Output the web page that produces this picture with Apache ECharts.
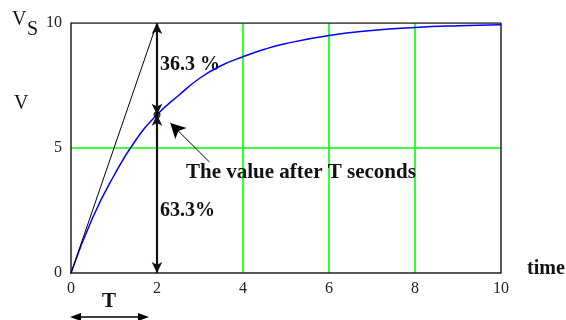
<!DOCTYPE html>
<html>
<head>
<meta charset="utf-8">
<script src="https://cdn.jsdelivr.net/npm/echarts@6/dist/echarts.min.js"></script>
<style>
  html, body { margin: 0; padding: 0; background: #fff; }
  #chart { width: 566px; height: 320px; }
</style>
</head>
<body>
<div id="chart"></div>
<script>
// Capacitor charging curve: voltage against time
var timeValues = [0, 0.5, 1, 1.5, 2, 2.5, 3, 3.5, 4, 4.5, 5, 6, 7, 8, 9, 10];
var voltValues = [0, 2.2, 3.9, 5.3, 6.33, 7.1, 7.8, 8.3, 8.65, 8.95, 9.18, 9.5, 9.7, 9.82, 9.89, 9.93];

// Initial slope line reaching the supply voltage at t = T
var tangentT = [0, 2];
var tangentV = [0, 10];

// Time constant and value reached after one T
var timeConstant = 2;
var valueAtT = 6.33;
var supplyV = 10;

// Annotation arrow (tail -> head), in data units
var noteTail = [3.22, 4.44];
var noteHead = [2.31, 6.0];

var xTicks = { min: 0, max: 10, interval: 2 };
var yTicks = { min: 0, max: 10, interval: 5 };

var upperPct = '36.3 %';
var lowerPct = '63.3%';
var noteText = 'The value after T seconds';

var serif = '"Liberation Serif", "Times New Roman", serif';

var curveData = timeValues.map(function (t, i) { return [t, voltValues[i]]; });
var tangentData = tangentT.map(function (t, i) { return [t, tangentV[i]]; });

var chart = echarts.init(document.getElementById('chart'), null, { renderer: 'canvas' });

var option = {
  animation: false,
  backgroundColor: '#fff',
  grid: { left: 71, right: 65, top: 23, bottom: 47, show: false },
  xAxis: {
    type: 'value', min: xTicks.min, max: xTicks.max, interval: xTicks.interval,
    axisLine: { show: true, lineStyle: { color: '#222', width: 1.5 } },
    axisTick: { show: false },
    axisLabel: { color: '#222', fontFamily: serif, fontSize: 16, margin: 8 },
    splitLine: { show: true, showMinLine: false, showMaxLine: false, lineStyle: { color: '#00ff00', width: 1.6 } }
  },
  yAxis: {
    type: 'value', min: yTicks.min, max: yTicks.max, interval: yTicks.interval,
    axisLine: { show: true, lineStyle: { color: '#222', width: 1.5 } },
    axisTick: { show: false },
    axisLabel: { color: '#222', fontFamily: serif, fontSize: 16, margin: 9 },
    splitLine: { show: true, showMinLine: false, showMaxLine: false, lineStyle: { color: '#00ff00', width: 1.6 } }
  },
  series: [
    {
      // frame top and right edges
      type: 'line',
      data: [[xTicks.min, yTicks.max], [xTicks.max, yTicks.max], [xTicks.max, yTicks.min]],
      symbol: 'none', silent: true, z: 1,
      lineStyle: { color: '#222', width: 1.5 }
    },
    {
      type: 'line',
      data: curveData,
      smooth: true,
      symbol: 'none',
      lineStyle: { color: '#0000ff', width: 1.5 },
      z: 3
    },
    {
      type: 'line',
      data: tangentData,
      symbol: 'none',
      lineStyle: { color: '#000', width: 1 },
      z: 4,
      markLine: {
        silent: true,
        symbol: ['arrow', 'arrow'],
        symbolSize: [8, 11],
        label: { show: false },
        lineStyle: { color: '#111', width: 2.2, type: 'solid' },
        data: [
          [{ coord: [timeConstant, supplyV] }, { coord: [timeConstant, valueAtT] }],
          [{ coord: [timeConstant, valueAtT] }, { coord: [timeConstant, 0] }]
        ]
      }
    },
    {
      type: 'line',
      data: [],
      z: 5,
      markLine: {
        silent: true,
        symbol: ['none', 'arrow'],
        symbolSize: [12, 15],
        label: { show: false },
        lineStyle: { color: '#000', width: 1, type: 'solid' },
        data: [[{ coord: noteTail }, { coord: noteHead }]]
      }
    },
    {
      type: 'scatter',
      data: [[timeConstant, valueAtT]],
      symbol: 'circle',
      symbolSize: 7,
      itemStyle: { color: '#000' },
      z: 6
    }
  ]
};
chart.setOption(option);

// Text annotations and the T span arrow below the axis
var pT0 = chart.convertToPixel({ gridIndex: 0 }, [0, 0]);
var pT1 = chart.convertToPixel({ gridIndex: 0 }, [timeConstant, 0]);
var arrowY = 317;
var x0 = pT0[0] - 1, x1 = pT1[0] - 8;

var textStyle = function (txt, size, bold) {
  return { text: txt, fill: '#111', font: (bold ? 'bold ' : '') + size + 'px ' + serif };
};

chart.setOption({
  graphic: [
    { type: 'text', left: 12, top: 10, style: textStyle('V', 20, false) },
    { type: 'text', left: 27, top: 20, style: textStyle('S', 20, false) },
    { type: 'text', left: 14, top: 94, style: textStyle('V', 20, false) },
    { type: 'text', left: 527, top: 259, style: textStyle('time', 20, true) },
    { type: 'text', left: 160, top: 55, style: textStyle(upperPct, 20, true) },
    { type: 'text', left: 160, top: 201, style: textStyle(lowerPct, 20, true) },
    { type: 'text', left: 186, top: 162, style: textStyle(noteText, 21, true) },
    { type: 'text', left: 102, top: 291, style: textStyle('T', 21, true) },
    { type: 'line', shape: { x1: x0 + 8, y1: arrowY, x2: x1 - 8, y2: arrowY }, style: { stroke: '#000', lineWidth: 1.5 } },
    { type: 'polygon', shape: { points: [[x0, arrowY], [x0 + 11, arrowY - 4], [x0 + 11, arrowY + 4]] }, style: { fill: '#000' } },
    { type: 'polygon', shape: { points: [[x1, arrowY], [x1 - 11, arrowY - 4], [x1 - 11, arrowY + 4]] }, style: { fill: '#000' } }
  ]
});
</script>
</body>
</html>
